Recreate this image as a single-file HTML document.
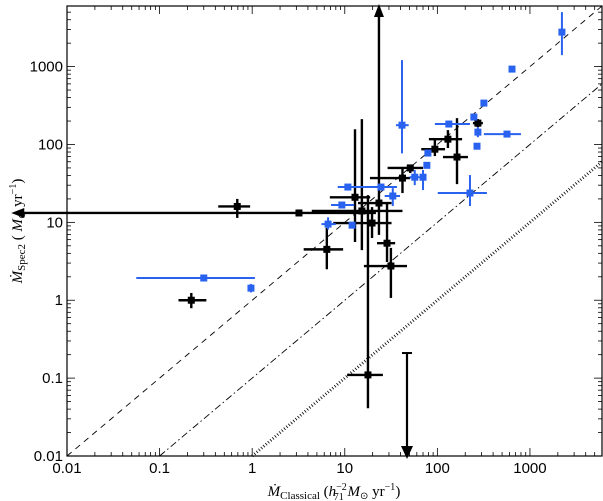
<!DOCTYPE html>
<html><head><meta charset="utf-8"><style>
html,body{margin:0;padding:0;background:#fff;}
svg{display:block;font-family:"Liberation Sans",sans-serif;}
</style></head><body>
<svg id="chart" width="603" height="501"></svg>
<script>
// ---- data ----
const blackX   = [0.22,0.69,3.2,6.4,12.9,15.3,23.4,19.7,28.6,31.5,17.8,42,51,94,130,163,274];
const blackXlo = [0.16,0.43,0.0025,3.6,6.9,4.4,13.9,7.5,22.3,16.1,10.6,18.7,29,67,81,115,242];
const blackXhi = [0.32,0.95,21.7,9.6,18.8,42,32,32,35,47,25.8,51,70,121,185,214,310];
const blackY   = [1.0,16,13.2,4.5,21,14,17.7,9.8,5.4,2.75,0.11,37,50,87,117,69,188];
const blackYlo = [0.79,11.4,13.2,2.5,5.6,4.4,6.9,6.3,3.1,1.07,0.041,23.8,43,71,90,31,167];
const blackYhi = [1.24,20,13.2,8.5,157,212,6500,15.7,17.7,4.7,22.4,51,52,114,153,218,212];
const blackLeftArrow = [0,0,1,0,0,0,0,0,0,0,0,0,0,0,0,0,0];
const blackUpArrow   = [0,0,0,0,0,0,1,0,0,0,0,0,0,0,0,0,0];

const blueX   = [0.30,0.97,9.3,10.8,24.6,6.6,12.0,33,41.5,57,70,77,79,133,248,274,268,565,318,640,2215,225];
const blueXlo = [0.056,0.97,7.1,8.4,16.5,5.6,12.0,27,35.7,50,64,77,79,94,248,274,268,318,318,640,2215,101];
const blueXhi = [1.07,0.97,12.6,16.5,36.6,8.0,12.0,39.5,49,64,76,77,79,225,248,274,268,800,318,640,2215,343];
const blueY   = [1.93,1.43,16.7,28.4,28.4,9.5,9.2,21.8,177,38,38,54,77.6,183,225,144,95,136,340,929,2770,23.8];
const blueYlo = [1.93,1.26,16.7,28.4,28.4,8.1,9.2,16.2,77,30,26,54,77.6,183,225,124,95,136,340,870,1405,16.2];
const blueYhi = [1.93,1.62,16.7,28.4,28.4,11.6,9.2,27.5,1210,47,47,54,77.6,183,225,167,95,136,340,1000,5010,40.5];

const limitX = [47];
const limitYhi = [0.21];

const xTicks = [0.01,0.1,1,10,100,1000];
const xTickLabels = ["0.01","0.1","1","10","100","1000"];
const yTicks = [0.01,0.1,1,10,100,1000];
const yTickLabels = ["0.01","0.1","1","10","100","1000"];

// ---- axes ----
const L=67,R=602,T=6,B=456;
const XMIN=-2,XMAX=Math.log10(6000),YMIN=-2,YMAX=Math.log10(6000);
const sx=v=>L+(Math.log10(v)-XMIN)/(XMAX-XMIN)*(R-L);
const sy=v=>B-(Math.log10(v)-YMIN)/(YMAX-YMIN)*(B-T);
const svg=document.getElementById('chart');
const NS='http://www.w3.org/2000/svg';
function mk(tag,attrs,parent){const e=document.createElementNS(NS,tag);for(const k in attrs)e.setAttribute(k,attrs[k]);(parent||svg).appendChild(e);return e;}

// reference lines
const gl=mk('g',{});


const lo=0.01,hi=6000;
const l1=mk('line',{x1:sx(lo),y1:sy(lo),x2:sx(hi),y2:sy(hi),stroke:'#000','stroke-width':0.9,'stroke-dasharray':'6,5'},gl);


const l2=mk('line',{x1:sx(0.1),y1:sy(0.01),x2:sx(hi),y2:sy(hi/10),stroke:'#000','stroke-width':0.9,'stroke-dasharray':'7,3,1.5,3'},gl);


const l3=mk('line',{x1:sx(1),y1:sy(0.01),x2:sx(hi),y2:sy(hi/100),stroke:'#000','stroke-width':3,'stroke-dasharray':'0.8,2.2'},gl);



function drawSeries(X,Xlo,Xhi,Y,Ylo,Yhi,color,sw,name,leftA,upA){
  const g=mk('g',{});
  
  
  for(let i=0;i<X.length;i++){
    const px=sx(X[i]),py=sy(Y[i]);
    const pg=mk('g',{},g);
    
    
    let xl=sx(Xlo[i]);
    if(leftA&&leftA[i]) xl+=10;
    mk('line',{x1:xl,y1:py,x2:sx(Xhi[i]),y2:py,stroke:color,'stroke-width':sw},pg);
    let yt=sy(Yhi[i]);
    if(upA&&upA[i]) yt=Math.max(yt,T)+10;
    mk('line',{x1:px,y1:yt,x2:px,y2:sy(Ylo[i]),stroke:color,'stroke-width':sw},pg);
    if(leftA&&leftA[i]){const ax=sx(Xlo[i]);mk('polygon',{points:`${ax},${py} ${ax+13},${py-5} ${ax+13},${py+5}`,fill:color},pg);}
    if(upA&&upA[i]){const ay=Math.max(sy(Yhi[i]),T)-2;mk('polygon',{points:`${px},${ay} ${px-5},${ay+13} ${px+5},${ay+13}`,fill:color},pg);}
    mk('rect',{x:px-3.5,y:py-3.5,width:7,height:7,fill:color},pg);
  }
}
drawSeries(blackX,blackXlo,blackXhi,blackY,blackYlo,blackYhi,'#000',2.4,'black',blackLeftArrow,blackUpArrow);
drawSeries(blueX,blueXlo,blueXhi,blueY,blueYlo,blueYhi,'#2a62f0',2,'blue',null,null);

// upper limit
for(let i=0;i<limitX.length;i++){
  const px=sx(limitX[i]),py=sy(limitYhi[i]);
  const g=mk('g',{});
  
  
  mk('line',{x1:px-5,y1:py,x2:px+5,y2:py,stroke:'#000','stroke-width':2},g);
  mk('line',{x1:px,y1:py,x2:px,y2:B-10,stroke:'#000','stroke-width':2.2},g);
  mk('polygon',{points:`${px},${B+3} ${px-6},${B-10} ${px+6},${B-10}`,fill:'#000'},g);
}

// frame and ticks
const fr=mk('rect',{x:L,y:T,width:R-L,height:B-T,fill:'none',stroke:'#000','stroke-width':1.2});


const tg=mk('g',{stroke:'#000','stroke-width':0.8});


for(let d=-2;d<=3;d++){
  for(let m=1;m<10;m++){
    const v=m*Math.pow(10,d);
    const len=m===1?8:4;
    if(v<=6000){
      const x=sx(v);
      mk('line',{x1:x,y1:B,x2:x,y2:B-len},tg);
      mk('line',{x1:x,y1:T,x2:x,y2:T+len},tg);
      const y=sy(v);
      mk('line',{x1:L,y1:y,x2:L+len,y2:y},tg);
      mk('line',{x1:R,y1:y,x2:R-len,y2:y},tg);
    }
  }
}
for(let i=0;i<xTicks.length;i++){
  const t=mk('text',{x:sx(xTicks[i]),y:B+17,'text-anchor':'middle','font-size':15});
  t.textContent=xTickLabels[i];
  
  
}
for(let i=0;i<yTicks.length;i++){
  const t=mk('text',{x:L-4,y:sy(yTicks[i])+5,'text-anchor':'end','font-size':15});
  t.textContent=yTickLabels[i];
  
  
}
</script>
<svg width="603" height="501" style="position:absolute;left:0;top:0;font-family:'Liberation Serif',serif;">
<text x="334" y="496" text-anchor="middle" font-size="15"><tspan font-style="italic">Ṁ</tspan><tspan font-size="11" dy="3">Classical</tspan><tspan dy="-3"> (</tspan><tspan font-style="italic">h</tspan><tspan font-size="10" dy="-6">−2</tspan><tspan font-size="10" dx="-13" dy="10">71</tspan><tspan dy="-4"> </tspan><tspan font-style="italic">M</tspan><tspan font-size="10" dy="3">⊙</tspan><tspan dy="-3"> yr</tspan><tspan font-size="10" dy="-6">−1</tspan><tspan dy="6">)</tspan></text>
<text transform="translate(22,231) rotate(-90)" text-anchor="middle" font-size="15"><tspan font-style="italic">Ṁ</tspan><tspan font-size="11" dy="3">Spec2</tspan><tspan dy="-3"> ( </tspan><tspan font-style="italic">M</tspan><tspan font-size="10" dy="3">⊙</tspan><tspan dy="-3"> yr</tspan><tspan font-size="10" dy="-6">−1</tspan><tspan dy="6">)</tspan></text>
</svg>
</body></html>
